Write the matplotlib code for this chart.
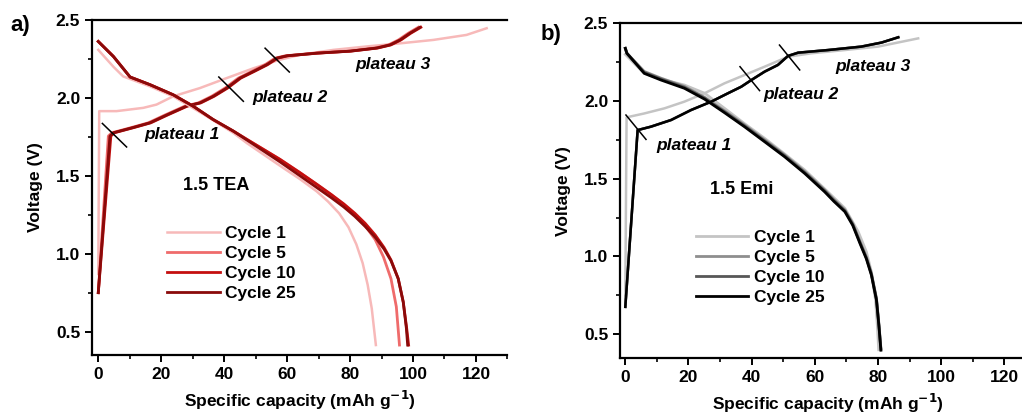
import matplotlib
matplotlib.use('Agg')
import matplotlib.pyplot as plt
from matplotlib.ticker import MultipleLocator

plt.rcParams['font.family'] = ['Liberation Sans', 'DejaVu Sans']
plt.rcParams['font.weight'] = 'bold'

# ---------------- panel a: 1.5 TEA ----------------
tea_labels = ['Cycle 1', 'Cycle 5', 'Cycle 10', 'Cycle 25']
tea_colors = ['#f7b9b9', '#ef6b6b', '#c40f0f', '#8a0a0a']

# charge curves (capacity, voltage)
tea_ch1_x = [0, 0.3, 5.8, 14.3, 18.5, 23.8, 32.3, 40.8, 49.3, 57.7, 64, 74.7, 85.3, 95.9, 106.5, 117, 123.4]
tea_ch1_y = [0.87, 1.915, 1.915, 1.936, 1.957, 2.01, 2.063, 2.127, 2.19, 2.245, 2.276, 2.308, 2.33, 2.35, 2.372, 2.404, 2.447]
tea_ch_x = [0, 3.7, 4.8, 11.1, 16.4, 21.7, 28, 32.3, 36.5, 40.8, 45, 49.3, 53.5, 56.7, 59.9, 69.4, 80, 88.5, 92.7, 95.9, 99, 102.2]
tea_ch_y = [0.75, 1.755, 1.776, 1.81, 1.84, 1.89, 1.947, 1.968, 2.01, 2.063, 2.127, 2.17, 2.213, 2.255, 2.27, 2.287, 2.30, 2.32, 2.34, 2.372, 2.415, 2.453]
tea_ch_shift = [None, -0.5, 0.3, 0.0]

# discharge curves
tea_dis1_x = [0, 4.8, 7.9, 16.4, 23.8, 33, 42.9, 47.2, 58.8, 64, 69.4, 73, 76.5, 79.5, 82, 84, 85.6, 86.9, 88.2]
tea_dis1_y = [2.308, 2.2, 2.138, 2.074, 2.01, 1.9, 1.776, 1.71, 1.55, 1.48, 1.40, 1.335, 1.26, 1.17, 1.06, 0.94, 0.80, 0.648, 0.414]
tea_dis5_x = [0, 4.8, 10.1, 16.4, 23.8, 30.2, 36.5, 42.9, 47.2, 57.7, 64.1, 69.4, 74, 78, 81.5, 84.8, 88, 90.6, 93, 94.7, 95.7]
tea_dis5_y = [2.362, 2.266, 2.134, 2.085, 2.02, 1.946, 1.861, 1.787, 1.734, 1.606, 1.52, 1.446, 1.38, 1.315, 1.25, 1.18, 1.09, 0.98, 0.84, 0.66, 0.414]
tea_dis10_x = [0, 4.8, 10.1, 16.4, 23.8, 30.2, 36.5, 42.9, 47.2, 57.7, 64.1, 69.4, 74, 78, 81.5, 84.8, 88, 90.8, 93, 95.3, 96.9, 98, 98.6]
tea_dis10_y = [2.362, 2.266, 2.134, 2.085, 2.02, 1.946, 1.861, 1.787, 1.734, 1.606, 1.52, 1.446, 1.38, 1.32, 1.26, 1.195, 1.12, 1.04, 0.96, 0.84, 0.69, 0.52, 0.414]
tea_dis25_x = [0, 4.8, 10.1, 16.4, 23.8, 30.2, 36.5, 42.9, 47.2, 57.7, 64.1, 69.4, 74, 78, 81.5, 84.8, 88, 90.8, 93, 95.3, 96.9, 97.9, 98.3]
tea_dis25_y = [2.362, 2.266, 2.134, 2.085, 2.02, 1.946, 1.861, 1.787, 1.73, 1.59, 1.50, 1.425, 1.36, 1.30, 1.24, 1.175, 1.105, 1.03, 0.955, 0.84, 0.69, 0.52, 0.414]

# ---------------- panel b: 1.5 Emi ----------------
emi_labels = ['Cycle 1', 'Cycle 5', 'Cycle 10', 'Cycle 25']
emi_colors = ['#c4c4c4', '#8e8e8e', '#575757', '#000000']

emi_ch1_x = [0, 0.4, 6, 12.4, 18.7, 25.1, 31.4, 37.7, 44.1, 51.5, 58.9, 69.5, 80, 92.7]
emi_ch1_y = [0.75, 1.895, 1.92, 1.953, 1.996, 2.05, 2.114, 2.167, 2.221, 2.285, 2.307, 2.328, 2.35, 2.403]
emi_ch_x = [0, 3.9, 8.1, 14.5, 20.8, 27.2, 32.5, 36.7, 39.9, 44.1, 48.3, 51.5, 54.7, 64.2, 74.7, 81.1, 86.4]
emi_ch_y = [0.676, 1.813, 1.835, 1.878, 1.942, 1.996, 2.05, 2.092, 2.135, 2.189, 2.232, 2.29, 2.311, 2.328, 2.35, 2.376, 2.41]

emi_dis1_x = [0, 6, 11.3, 18.7, 25.1, 31.4, 37.7, 44.1, 50.4, 56.8, 63.1, 69.5, 73.7, 76.3, 77.9, 79.2, 79.8, 80.2]
emi_dis1_y = [2.30, 2.178, 2.14, 2.103, 2.05, 1.953, 1.855, 1.76, 1.66, 1.556, 1.435, 1.31, 1.16, 1.03, 0.9, 0.72, 0.55, 0.40]
emi_dis_x = [0, 0.5, 6, 11.3, 18.7, 25.1, 31.4, 37.7, 44.1, 50.4, 56.8, 63.1, 66, 69.5, 72, 74.3, 76.3, 77.9, 79.5, 80.3, 80.9]
emi_dis_y = [2.339, 2.307, 2.178, 2.135, 2.082, 2.012, 1.925, 1.835, 1.738, 1.642, 1.534, 1.416, 1.355, 1.288, 1.2, 1.083, 0.985, 0.88, 0.719, 0.547, 0.397]
emi_dis_shift = [None, 0.012, 0.006, 0.0]

# plateau marks (x0, y0, x1, y1) and labels
tea_marks = [(1.3, 1.836, 9.0, 1.685), (38.3, 2.134, 46.1, 1.978), (53.0, 2.319, 60.7, 2.166)]
tea_plateau_pos = [(26.5, 1.765), (60.9, 2.0), (93.5, 2.213)]
emi_marks = [(0.2, 1.91, 6.55, 1.753), (36.3, 2.221, 42.5, 2.067), (48.8, 2.36, 55.2, 2.2)]
emi_plateau_pos = [(21.7, 1.712), (55.5, 2.039), (78.4, 2.225)]
plateau_names = ['plateau 1', 'plateau 2', 'plateau 3']


def style_axes(ax, ylim_lo, xlim_lo):
    ax.set_xlim(xlim_lo, 130)
    ax.set_ylim(ylim_lo, 2.5)
    ax.spines['right'].set_visible(False)
    for s in ['left', 'bottom', 'top']:
        ax.spines[s].set_linewidth(1.6)
    ax.set_xticks([0, 20, 40, 60, 80, 100, 120])
    ax.set_yticks([0.5, 1.0, 1.5, 2.0, 2.5])
    ax.xaxis.set_minor_locator(MultipleLocator(10))
    ax.yaxis.set_minor_locator(MultipleLocator(0.25))
    ax.tick_params(which='major', direction='out', length=5, width=1.4, labelsize=12.5)
    ax.tick_params(which='minor', direction='out', length=3, width=1.2)
    ax.tick_params(top=False, right=False)
    for lab in ax.get_xticklabels() + ax.get_yticklabels():
        lab.set_fontweight('bold')
    ax.set_xlabel('Specific capacity (mAh g$^{\\mathbf{-1}}$)', fontsize=12.5, fontweight='bold', labelpad=5)
    ax.set_ylabel('Voltage (V)', fontsize=12.5, fontweight='bold', labelpad=9)


fig = plt.figure(figsize=(10.22, 4.16), dpi=100)

# ---- panel a ----
axa = fig.add_axes([0.090, 0.1466, 0.4065, 0.8054])
tea_dis = [(tea_dis1_x, tea_dis1_y), (tea_dis5_x, tea_dis5_y),
           (tea_dis10_x, tea_dis10_y), (tea_dis25_x, tea_dis25_y)]
axa.plot(tea_ch1_x, tea_ch1_y, color=tea_colors[0], lw=1.8)
for i in range(1, 4):
    cx = [v + tea_ch_shift[i] if v > 3 else v for v in tea_ch_x]
    axa.plot(cx, tea_ch_y, color=tea_colors[i], lw=2.0)
for i in range(4):
    axa.plot(tea_dis[i][0], tea_dis[i][1], color=tea_colors[i], lw=2.0 if i else 1.8,
             label=tea_labels[i])
for m in tea_marks:
    axa.plot([m[0], m[2]], [m[1], m[3]], color='black', lw=1.1)
for name, pos in zip(plateau_names, tea_plateau_pos):
    axa.text(pos[0], pos[1], name, fontsize=12.5, fontweight='bold', style='italic',
             ha='center', va='center')
axa.text(37.4, 1.435, '1.5 TEA', fontsize=13, fontweight='bold', ha='center', va='center')
style_axes(axa, 0.35, -2)
axa.legend(loc='upper left', bbox_to_anchor=(0.165, 0.405), frameon=False,
           handlelength=3.0, handletextpad=0.3, labelspacing=0.28, borderaxespad=0,
           prop={'weight': 'bold', 'size': 12.5})
fig.text(0.010, 0.925, 'a)', fontsize=16, fontweight='bold')

# ---- panel b ----
axb = fig.add_axes([0.6066, 0.1387, 0.4071, 0.8053])
axb.plot(emi_ch1_x, emi_ch1_y, color=emi_colors[0], lw=1.8)
axb.plot(emi_dis1_x, emi_dis1_y, color=emi_colors[0], lw=2.0, label=emi_labels[0])
for i in range(1, 4):
    axb.plot(emi_ch_x, emi_ch_y, color=emi_colors[i], lw=1.8)
    dy = [v + emi_dis_shift[i] * (1 if v < 2.2 else 0) for v in emi_dis_y]
    axb.plot(emi_dis_x, dy, color=emi_colors[i], lw=2.0, label=emi_labels[i])
for m in emi_marks:
    axb.plot([m[0], m[2]], [m[1], m[3]], color='black', lw=1.1)
for name, pos in zip(plateau_names, emi_plateau_pos):
    axb.text(pos[0], pos[1], name, fontsize=12.5, fontweight='bold', style='italic',
             ha='center', va='center')
axb.text(36.9, 1.433, '1.5 Emi', fontsize=13, ha='center', va='center')
style_axes(axb, 0.345, -1.7)
axb.legend(loc='upper left', bbox_to_anchor=(0.167, 0.405), frameon=False,
           handlelength=3.0, handletextpad=0.3, labelspacing=0.28, borderaxespad=0,
           prop={'weight': 'bold', 'size': 12.5})
fig.text(0.529, 0.905, 'b)', fontsize=16, fontweight='bold')

fig.savefig('out.png', dpi=100)
